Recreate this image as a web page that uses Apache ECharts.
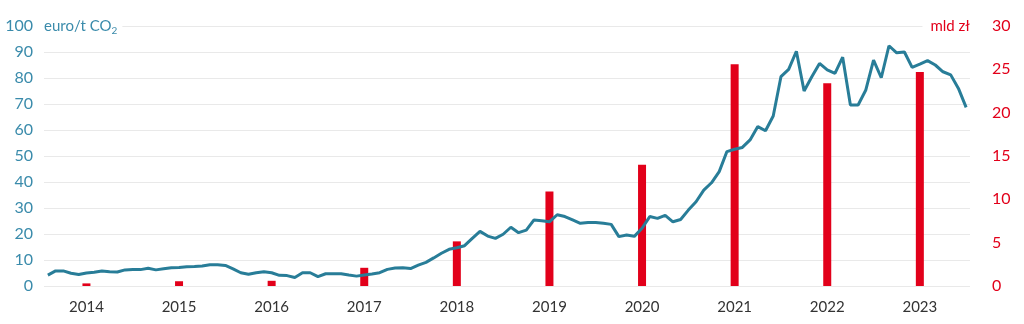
<!DOCTYPE html>
<html>
<head>
<meta charset="utf-8">
<script src="https://cdn.jsdelivr.net/npm/echarts@6/dist/echarts.min.js"></script>
<style>
html,body{margin:0;padding:0;background:#fff;}
#c{width:1024px;height:324px;}
</style>
</head>
<body>
<div id="c"></div>
<script>
// monthly categories Feb 2014 .. Jan 2024
const months = [];
for (let y = 2014; y <= 2024; y++) {
  for (let m = 1; m <= 12; m++) {
    if ((y === 2014 && m < 2) || (y === 2024 && m > 1)) continue;
    months.push(y + '-' + String(m).padStart(2, '0'));
  }
}
// EUA price, euro/t CO2 (left axis)
const price = [
  4.2, 5.8, 5.8, 4.9, 4.4, 5.0, 5.3, 5.8, 5.5, 5.4, 6.2, 6.3,
  6.3, 6.8, 6.2, 6.6, 7.0, 7.1, 7.4, 7.5, 7.7, 8.2, 8.2, 7.9,
  6.6, 5.1, 4.5, 5.1, 5.5, 5.1, 4.1, 4.0, 3.3, 5.1, 5.1, 3.6,
  4.7, 4.7, 4.7, 4.2, 3.8, 4.2, 4.6, 5.1, 6.4, 6.9, 7.0, 6.7,
  8.0, 9.1, 10.8, 12.6, 14.1, 14.7, 15.5, 18.3, 21.0, 19.2, 18.3, 19.9,
  22.6, 20.5, 21.5, 25.4, 25.1, 24.7, 27.4, 26.7, 25.4, 24.1, 24.4, 24.4,
  24.1, 23.7, 19.0, 19.6, 19.1, 22.2, 26.7, 26.0, 27.2, 24.7, 25.6, 29.2,
  32.4, 36.9, 39.7, 44.0, 51.7, 52.6, 53.3, 56.2, 61.3, 59.7, 65.4, 80.5,
  83.3, 90.3, 75.0, 80.5, 85.6, 83.1, 81.8, 88.0, 69.6, 69.6, 75.4, 86.9,
  80.1, 92.4, 89.7, 90.0, 84.1, 85.3, 86.7, 85.0, 82.4, 81.2, 76.0, 68.7
];
// annual auction revenue, mld zł (right axis)
const barYears = ['2014','2015','2016','2017','2018','2019','2020','2021','2022','2023'];
const revenue = [0.3, 0.55, 0.6, 2.1, 5.15, 10.9, 14.0, 25.6, 23.4, 24.7];
const leftTicks = { min: 0, max: 100, interval: 10 };
const rightTicks = { min: 0, max: 30, interval: 5 };

const teal = '#3a8bab';
const lineTeal = '#287d98';
const red = '#e2001a';
const font = 'Lato';

const chart = echarts.init(document.getElementById('c'), null, { renderer: 'canvas' });
chart.setOption({
  animation: false,
  backgroundColor: '#fff',
  grid: { left: 44, right: 54, top: 26, bottom: 38, containLabel: false },
  xAxis: {
    type: 'category',
    data: months,
    boundaryGap: true,
    axisLine: { show: false },
    axisTick: { show: false },
    splitLine: { show: false },
    axisLabel: {
      interval: (idx, val) => val.endsWith('-07'),
      formatter: (val) => val.slice(0, 4),
      color: '#333',
      fontFamily: font,
      fontSize: 15,
      margin: 14
    }
  },
  yAxis: [
    {
      type: 'value',
      min: leftTicks.min, max: leftTicks.max, interval: leftTicks.interval,
      position: 'left',
      name: '{a|euro/t CO}{s|2}',
      nameLocation: 'end',
      nameGap: 0,
      nameTextStyle: {
        align: 'left',
        verticalAlign: 'middle',
        backgroundColor: '#fff',
        padding: [3, 5, 3, 0],
        rich: {
          a: { color: teal, fontFamily: font, fontSize: 15 },
          s: { color: teal, fontFamily: font, fontSize: 10, verticalAlign: 'bottom', padding: [9, 0, 0, 0] }
        }
      },
      axisLine: { show: false },
      axisTick: { show: false },
      axisLabel: { color: teal, fontFamily: font, fontSize: 16, margin: 11 },
      splitLine: { lineStyle: { color: '#e9e9e9', width: 1 } }
    },
    {
      type: 'value',
      min: rightTicks.min, max: rightTicks.max, interval: rightTicks.interval,
      position: 'right',
      name: 'mld zł',
      nameLocation: 'end',
      nameGap: 0,
      nameTextStyle: {
        align: 'right',
        verticalAlign: 'middle',
        color: red,
        fontFamily: font,
        fontSize: 15,
        backgroundColor: '#fff',
        padding: [3, 0, 3, 8]
      },
      axisLine: { show: false },
      axisTick: { show: false },
      axisLabel: { color: red, fontFamily: font, fontSize: 16, margin: 22, align: 'left' },
      splitLine: { show: false }
    }
  ],
  series: [
    {
      type: 'bar',
      yAxisIndex: 1,
      barWidth: 8,
      itemStyle: { color: red },
      data: barYears.map((y, k) => [y + '-07', revenue[k]]),
      z: 2
    },
    {
      type: 'line',
      yAxisIndex: 0,
      data: price,
      symbol: 'none',
      lineStyle: { color: lineTeal, width: 3 },
      z: 3
    }
  ]
});
</script>
</body>
</html>
